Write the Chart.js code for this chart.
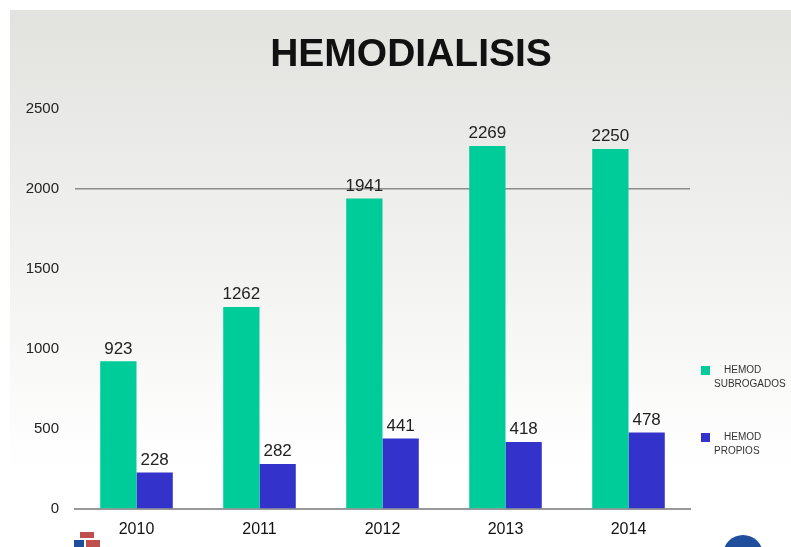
<!DOCTYPE html>
<html>
<head>
<meta charset="utf-8">
<title>HEMODIALISIS</title>
<script src="https://cdn.jsdelivr.net/npm/chart.js@4.4.1/dist/chart.umd.min.js"></script>
<style>
  html, body { margin: 0; padding: 0; background: #fff; }
  #wrap { position: relative; width: 791px; height: 547px; }
</style>
</head>
<body>
<div id="wrap"><canvas id="hemoChart" width="791" height="547"></canvas></div>
<script>
// Hemodiálisis por año - dos series de barras
var years = ['2010', '2011', '2012', '2013', '2014'];
var hemodSubrogados = [923, 1262, 1941, 2269, 2250];
var hemodPropios = [228, 282, 441, 418, 478];
var seriesNames = [['HEMOD', 'SUBROGADOS'], ['HEMOD', 'PROPIOS']];
var yTicks = [0, 500, 1000, 1500, 2000, 2500];

var GREEN = '#00cc99';
var BLUE = '#3333cc';

// fondo degradado, título, logos
var backdrop = {
    id: 'backdrop',
    beforeDraw: function(chart) {
        var ctx = chart.ctx;
        ctx.save();
        ctx.fillStyle = '#ffffff';
        ctx.fillRect(0, 0, chart.width, chart.height);
        var g = ctx.createLinearGradient(0, 10, 0, 470);
        g.addColorStop(0, '#e2e3df');
        g.addColorStop(1, '#ffffff');
        ctx.fillStyle = g;
        ctx.fillRect(10, 10, chart.width - 10, chart.height - 10);
        ctx.fillStyle = '#111';
        ctx.font = 'bold 39px "Liberation Sans", Arial, sans-serif';
        ctx.textAlign = 'center';
        ctx.textBaseline = 'middle';
        ctx.fillText('HEMODIALISIS', 411, 55);
        // logos pequeños abajo
        ctx.fillStyle = '#c0504d';
        ctx.fillRect(80, 532, 14, 6);
        ctx.fillRect(86, 540, 14, 7);
        ctx.fillStyle = '#1f4e9c';
        ctx.fillRect(74, 540, 10, 7);
        ctx.beginPath();
        ctx.arc(743, 555, 20, 0, Math.PI * 2);
        ctx.fill();
        ctx.restore();
    }
};

// etiquetas de valores y leyenda
var valueLabels = {
    id: 'valueLabels',
    afterDatasetsDraw: function(chart) {
        var ctx = chart.ctx;
        ctx.save();
        ctx.fillStyle = '#222';
        ctx.font = '17px "Liberation Sans", Arial, sans-serif';
        ctx.textAlign = 'center';
        ctx.textBaseline = 'bottom';
        chart.data.datasets.forEach(function(ds, i) {
            chart.getDatasetMeta(i).data.forEach(function(bar, j) {
                ctx.fillText(ds.data[j], bar.x, bar.y - 4);
            });
        });
        // leyenda a la derecha
        var legendY = [366, 433];
        ctx.font = '10px "Liberation Sans", Arial, sans-serif';
        ctx.textAlign = 'left';
        ctx.textBaseline = 'middle';
        chart.data.datasets.forEach(function(ds, i) {
            var y = legendY[i];
            ctx.fillStyle = ds.backgroundColor;
            ctx.fillRect(701, y, 9, 9);
            ctx.fillStyle = '#333';
            ctx.fillText(seriesNames[i][0], 724, y + 4);
            ctx.fillText(seriesNames[i][1], 714, y + 18);
        });
        ctx.restore();
    }
};

new Chart(document.getElementById('hemoChart').getContext('2d'), {
    type: 'bar',
    data: {
        labels: years,
        datasets: [
            { label: seriesNames[0].join(' '), data: hemodSubrogados, backgroundColor: GREEN, borderWidth: 0 },
            { label: seriesNames[1].join(' '), data: hemodPropios, backgroundColor: BLUE, borderWidth: 0 }
        ]
    },
    options: {
        responsive: false,
        animation: false,
        layout: { padding: { top: 109, right: 101, left: 0, bottom: 0 } },
        plugins: { legend: { display: false }, tooltip: { enabled: false }, title: { display: false } },
        datasets: { bar: { categoryPercentage: 0.59, barPercentage: 1 } },
        scales: {
            x: {
                afterFit: function(s) { s.height = 38; },
                grid: { display: false, drawTicks: false },
                border: { display: true, color: '#999', width: 2 },
                ticks: { color: '#111', padding: 11, font: { size: 16, family: '"Liberation Sans", Arial, sans-serif' } }
            },
            y: {
                min: 0, max: 2500,
                afterFit: function(s) { s.width = 75; },
                afterBuildTicks: function(s) { s.ticks = yTicks.map(function(v) { return { value: v }; }); },
                grid: {
                    drawTicks: false,
                    color: function(c) { return c.tick && c.tick.value === 2000 ? '#8c8c8c' : 'rgba(0,0,0,0)'; },
                    lineWidth: 1.5
                },
                border: { display: false },
                ticks: {
                    color: '#222', padding: 16,
                    font: { size: 15, family: '"Liberation Sans", Arial, sans-serif' },
                    callback: function(v) { return String(v); }
                }
            }
        }
    },
    plugins: [backdrop, valueLabels]
});
</script>
</body>
</html>
